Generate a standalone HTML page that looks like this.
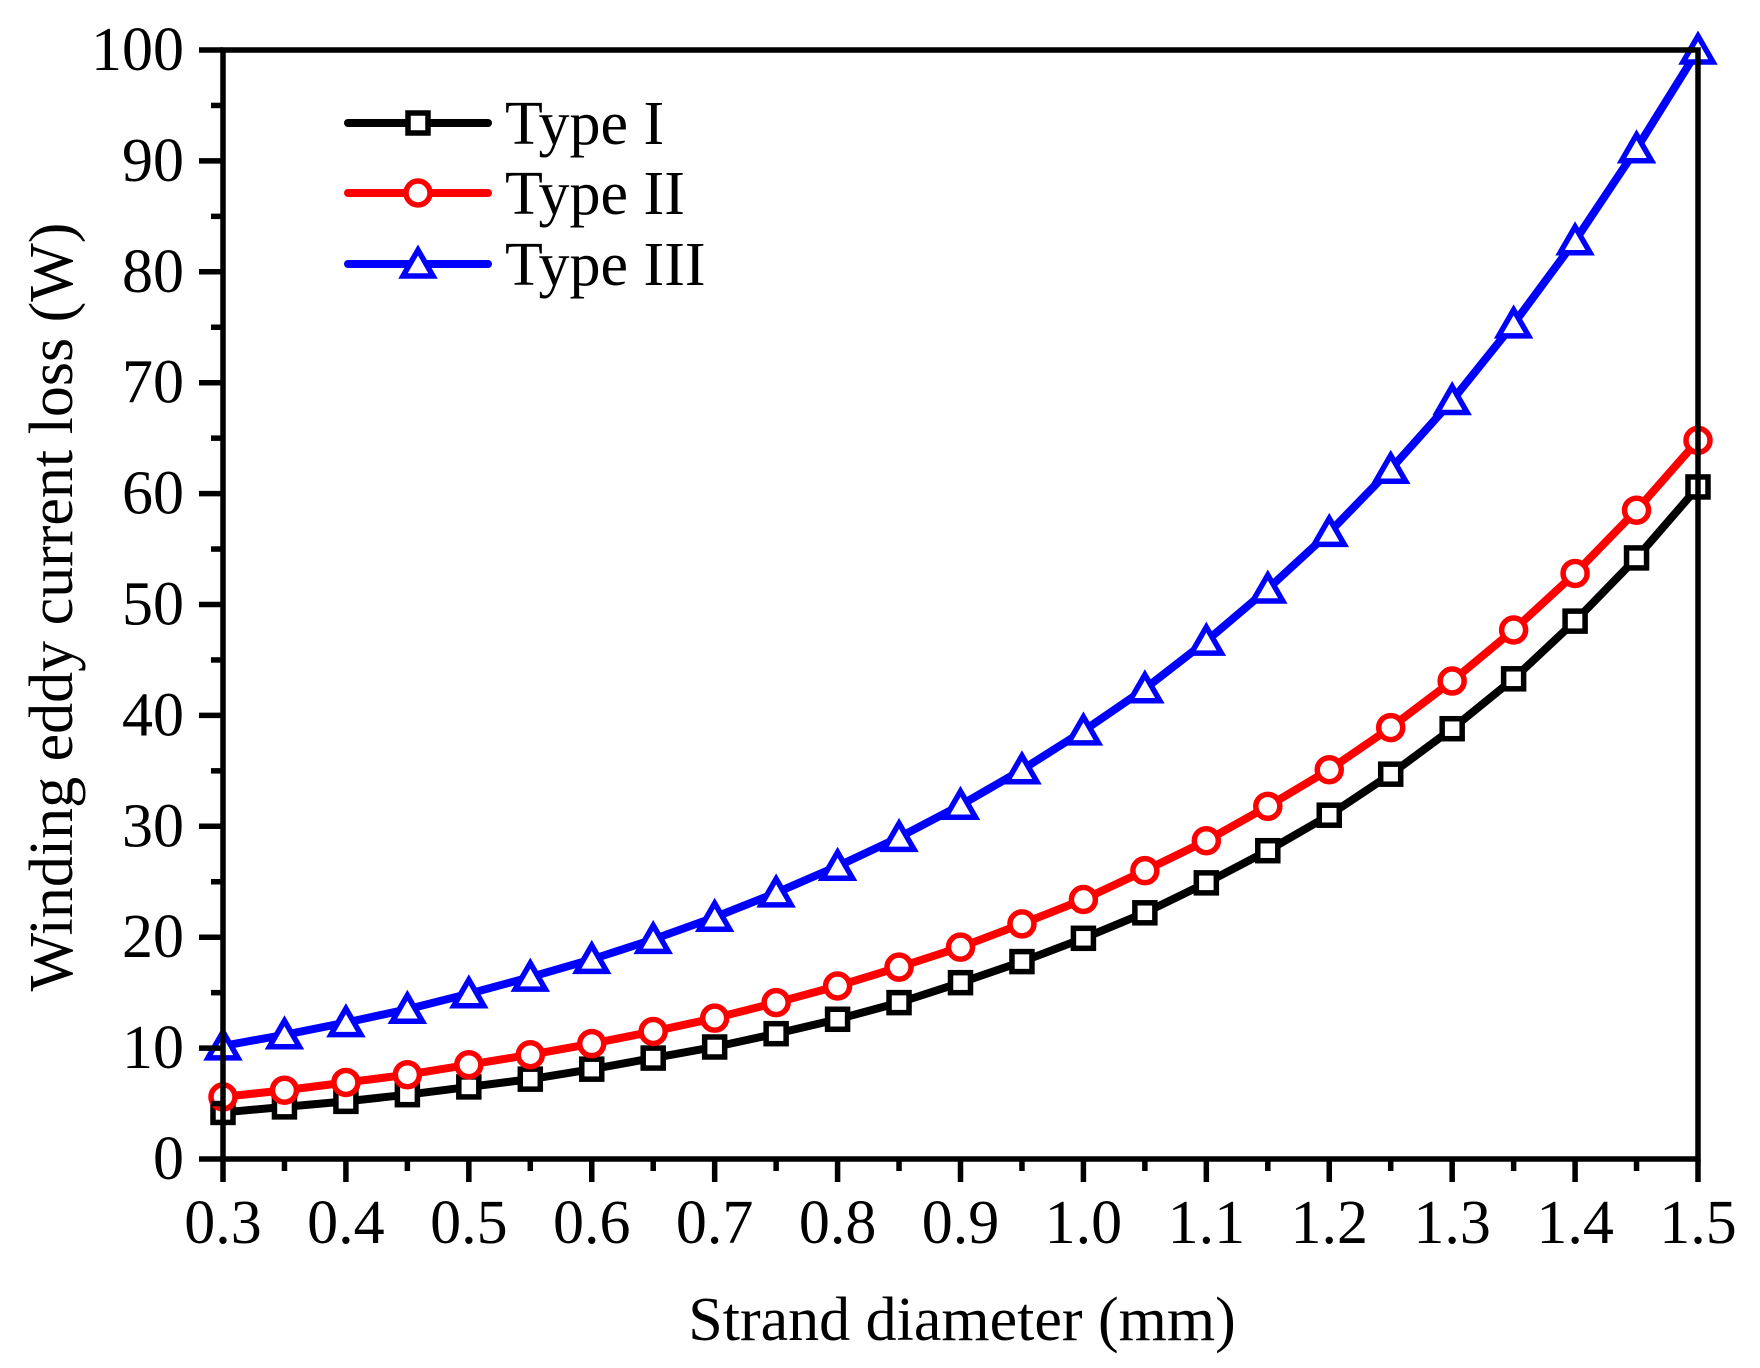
<!DOCTYPE html>
<html><head><meta charset="utf-8"><style>
html,body{margin:0;padding:0;background:#fff;}
svg{display:block;font-family:"Liberation Serif",serif;}
</style></head><body>
<svg id="chart" width="1760" height="1368" viewBox="0 0 1760 1368" xmlns="http://www.w3.org/2000/svg">
<g id="grid"></g>
<g id="series"></g>
<g id="axes"></g>
<g id="legend"></g>
</svg>
<script>
const xValues = [0.3,0.35,0.4,0.45,0.5,0.55,0.6,0.65,0.7,0.75,0.8,0.85,0.9,0.95,1.0,1.05,1.1,1.15,1.2,1.25,1.3,1.35,1.4,1.45,1.5];
const typeI = [4.2,4.7,5.2,5.8,6.5,7.2,8.1,9.1,10.1,11.3,12.6,14.1,15.9,17.8,19.9,22.2,24.9,27.8,31.0,34.7,38.8,43.3,48.5,54.2,60.6];
const typeII = [5.6,6.2,6.9,7.6,8.5,9.4,10.4,11.5,12.7,14.1,15.6,17.3,19.1,21.2,23.4,26.0,28.7,31.8,35.1,38.9,43.1,47.7,52.8,58.5,64.8];
const typeIII = [10.2,11.2,12.3,13.5,14.9,16.4,18.0,19.8,21.8,24.0,26.4,29.0,31.9,35.1,38.6,42.4,46.7,51.4,56.5,62.2,68.4,75.3,82.8,91.1,100];
const xTicks = ["0.3","0.4","0.5","0.6","0.7","0.8","0.9","1.0","1.1","1.2","1.3","1.4","1.5"];
const yTicks = ["0","10","20","30","40","50","60","70","80","90","100"];
const seriesNames = ["Type I","Type II","Type III"];

const NS="http://www.w3.org/2000/svg";
const X0=223,X1=1698,Y0=1159,Y1=50;
const xMin=0.3,xMax=1.5,yMin=0,yMax=100;
function sx(v){return X0+(v-xMin)/(xMax-xMin)*(X1-X0);}
function sy(v){return Y0-(v-yMin)/(yMax-yMin)*(Y0-Y1);}
function mk(tag,attrs,parent){const e=document.createElementNS(NS,tag);for(const k in attrs)e.setAttribute(k,attrs[k]);parent.appendChild(e);return e;}

const axes=document.getElementById('axes');
const seriesG=document.getElementById('series');
const legend=document.getElementById('legend');

let fr=mk('rect',{x:X0,y:Y1,width:X1-X0,height:Y0-Y1,fill:'none',stroke:'#000','stroke-width':5.5},axes);



xTicks.forEach(function(t){
  const v=parseFloat(t),x=sx(v);
  const l=mk('line',{x1:x,y1:Y0,x2:x,y2:Y0+23,stroke:'#000','stroke-width':5.5},axes);
  
  
  const tx=mk('text',{x:x,y:1243,'font-size':62,'text-anchor':'middle'},axes);
  tx.textContent=t;
  
  
  if(v<xMax){
    const m=sx(v+0.05);
    const ml=mk('line',{x1:m,y1:Y0,x2:m,y2:Y0+12,stroke:'#000','stroke-width':5.5},axes);
    
    
  }
});
yTicks.forEach(function(t){
  const v=parseFloat(t),y=sy(v);
  const l=mk('line',{x1:X0-24,y1:y,x2:X0,y2:y,stroke:'#000','stroke-width':5.5},axes);
  
  
  const tx=mk('text',{x:184,y:y+20,'font-size':62,'text-anchor':'end'},axes);
  tx.textContent=t;
  
  
  if(v<yMax){
    const m=sy(v+5);
    const ml=mk('line',{x1:X0-12,y1:m,x2:X0,y2:m,stroke:'#000','stroke-width':5.5},axes);
    
    
  }
});
let xt=mk('text',{x:962,y:1340,'font-size':62,'text-anchor':'middle'},axes);
xt.textContent='Strand diameter (mm)';


let yt=mk('text',{x:0,y:0,'font-size':62,'text-anchor':'middle',transform:'translate(72,607) rotate(-90)'},axes);
yt.textContent='Winding eddy current loss (W)';



function marker(type,x,y,color,parent){
  let e;
  if(type==='square') e=mk('rect',{x:x-10,y:y-10,width:20,height:20,fill:'#fff',stroke:color,'stroke-width':5.5},parent);
  else if(type==='circle') e=mk('circle',{cx:x,cy:y,r:12,fill:'#fff',stroke:color,'stroke-width':5.5},parent);
  else e=mk('polygon',{points:(x)+','+(y-14)+' '+(x+15)+','+(y+12)+' '+(x-15)+','+(y+12),fill:'#fff',stroke:color,'stroke-width':5.5,'stroke-linejoin':'miter'},parent);
  return e;
}
const defs=[[typeI,'#000','square','series-type-i'],[typeII,'#ff0000','circle','series-type-ii'],[typeIII,'#0000ff','triangle','series-type-iii']];
defs.forEach(function(d,i){
  const g=mk('g',{},seriesG);
  
  
  const pts=xValues.map(function(x,j){return sx(x)+','+sy(d[0][j]);}).join(' ');
  const pl=mk('polyline',{points:pts,fill:'none',stroke:d[1],'stroke-width':8,'stroke-linejoin':'round'},g);
  
  
  xValues.forEach(function(x,j){
    const m=marker(d[2],sx(x),sy(d[0][j]),d[1],g);
    
    
  });
  const ly=[123,193,264][i];
  const lg=mk('g',{},legend);
  
  
  mk('line',{x1:348,y1:ly,x2:488,y2:ly,stroke:d[1],'stroke-width':8,'stroke-linecap':'round'},lg);
  marker(d[2],418,ly,d[1],lg);
  const lt=mk('text',{x:505,y:ly+21,'font-size':62},lg);
  lt.textContent=seriesNames[i];
  
  
});
</script>
</body></html>
